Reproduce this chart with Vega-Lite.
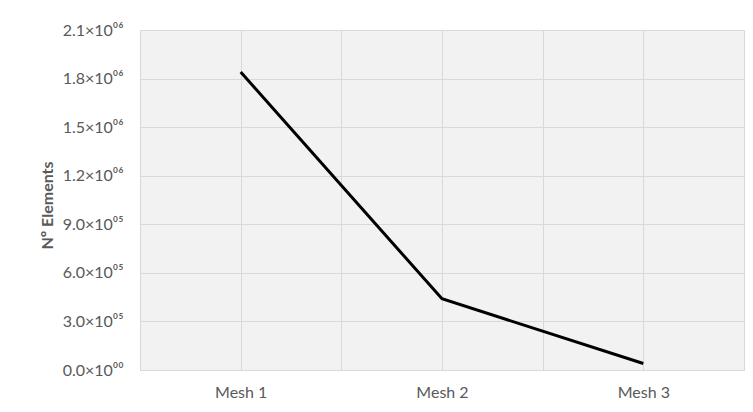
{
  "$schema": "https://vega.github.io/schema/vega-lite/v6.json",
  "width": 604,
  "height": 340,
  "autosize": {"type": "none"},
  "padding": {"left": 140, "top": 30, "right": 9, "bottom": 42},
  "background": "#ffffff",
  "config": {
    "font": "Lato",
    "view": {"stroke": null, "fill": "#f2f2f2"},
    "axis": {"labelFont": "Lato", "titleFont": "Lato", "labelColor": "#595959", "titleColor": "#595959", "labelFontSize": 16, "titleFontSize": 16, "gridColor": "#d9d9d9", "gridWidth": 1, "domainColor": "#d9d9d9", "ticks": false}
  },
  "data": {"values": [
    {"mesh": 1, "elements": 1840000},
    {"mesh": 2, "elements": 440000},
    {"mesh": 3, "elements": 40000}
  ]},
  "mark": {"type": "line", "color": "#000000", "strokeWidth": 3, "strokeJoin": "miter"},
  "encoding": {
    "x": {
      "field": "mesh", "type": "quantitative",
      "scale": {"domain": [0.5, 3.5], "nice": false, "zero": false},
      "axis": {
        "title": null,
        "values": [0.5, 1, 1.5, 2, 2.5, 3, 3.5],
        "labelExpr": "datum.value % 1 == 0 ? 'Mesh ' + datum.value : ''",
        "labelPadding": 14,
        "domain": true
      }
    },
    "y": {
      "field": "elements", "type": "quantitative",
      "scale": {"domain": [0, 2100000], "nice": false},
      "axis": {
        "title": "Nº Elements",
        "titleFontWeight": "bold",
        "titleX": -93,
        "titleY": 175,
        "titleAngle": -90,
        "titleAlign": "center",
        "titleBaseline": "middle",
        "values": [0, 300000, 600000, 900000, 1200000, 1500000, 1800000, 2100000],
        "labelExpr": "datum.value == 0 ? '0.0×10⁰⁰' : (datum.value < 1000000 ? format(datum.value / 100000, '.1f') + '×10⁰⁵' : format(datum.value / 1000000, '.1f') + '×10⁰⁶')",
        "labelPadding": 17,
        "domain": false
      }
    }
  }
}
